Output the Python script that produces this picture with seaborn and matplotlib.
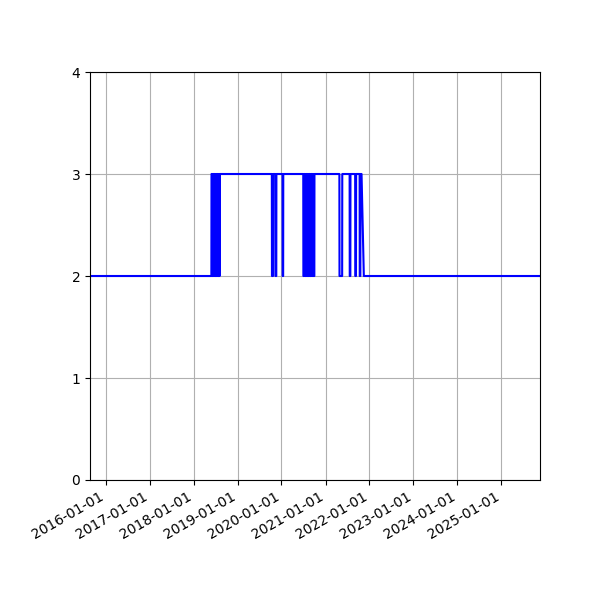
import pandas as pd
import matplotlib
matplotlib.use("Agg")
import matplotlib.pyplot as plt
import matplotlib.dates as mdates
import seaborn as sns

# series range
start_date = "2015-08-25"
end_date = "2025-11-17"
start_level = 2

# dates where the level changes, and the new level
change_dates = [
    "2018-05-30", "2018-06-05", "2018-06-11", "2018-06-17", "2018-06-23",
    "2018-06-29", "2018-07-05", "2018-07-11", "2018-07-17", "2018-07-23",
    "2018-07-29", "2018-08-04", "2018-08-07",
    "2019-10-14", "2019-10-24", "2019-11-12", "2019-11-20",
    "2020-01-11", "2020-01-16",
    "2020-07-01", "2020-07-08", "2020-07-15", "2020-07-22", "2020-07-29",
    "2020-08-05", "2020-08-12", "2020-08-19", "2020-08-26", "2020-09-02",
    "2020-09-09", "2020-09-16", "2020-09-23", "2020-10-01",
    "2021-04-27", "2021-05-20",
    "2021-07-21", "2021-07-27",
    "2021-09-05", "2021-09-12",
    "2021-10-12", "2021-10-18",
    "2021-11-15",
]
change_levels = [
    3, 2, 3, 2, 3,
    2, 3, 2, 3, 2,
    3, 2, 3,
    2, 3, 2, 3,
    2, 3,
    2, 3, 2, 3, 2,
    3, 2, 3, 2, 3,
    2, 3, 2, 3,
    2, 3,
    2, 3,
    2, 3,
    2, 3,
    2,
]

# days with no record
gap_from = "2021-10-28"
gap_to = "2021-11-14"

days = pd.date_range(start_date, end_date, freq="D")
level = pd.Series(float("nan"), index=days)
level.iloc[0] = start_level
level[pd.to_datetime(change_dates)] = change_levels
level = level.ffill()
level = level[(level.index < gap_from) | (level.index > gap_to)]

df = pd.DataFrame({"date": level.index, "level": level.values})

fig, ax = plt.subplots(figsize=(6, 6), dpi=100)
sns.lineplot(data=df, x="date", y="level", ax=ax, color="blue",
             linewidth=1.5, estimator=None)

ax.set_xlim(pd.Timestamp(start_date), pd.Timestamp(end_date))
ax.set_ylim(0, 4)
ax.set_yticks([0, 1, 2, 3, 4])
ax.xaxis.set_major_locator(mdates.YearLocator())
ax.xaxis.set_major_formatter(mdates.DateFormatter("%Y-%m-%d"))
ax.set_xlabel("")
ax.set_ylabel("")
ax.grid(True)

fig.autofmt_xdate()
plt.subplots_adjust(left=0.15, right=0.9, top=0.88, bottom=0.2)
plt.savefig("out.png")
